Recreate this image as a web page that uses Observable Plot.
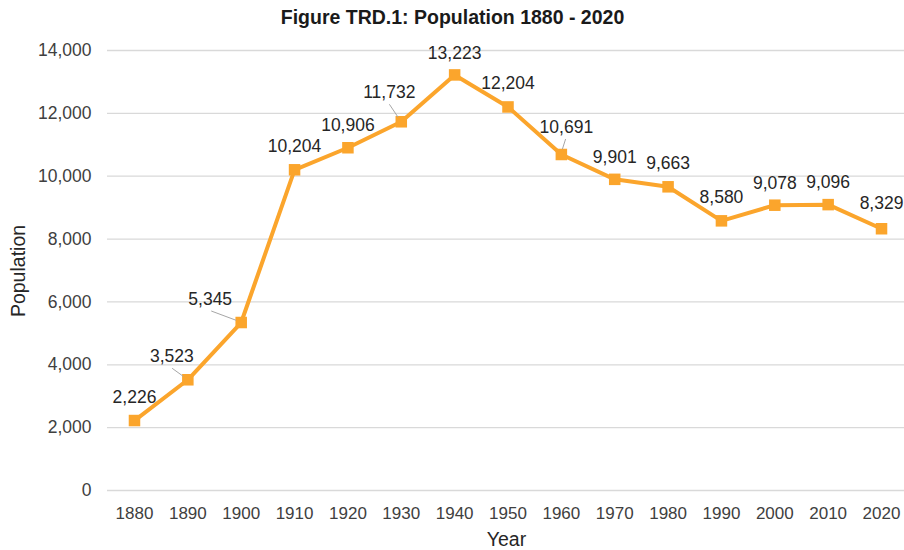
<!DOCTYPE html>
<html>
<head>
<meta charset="utf-8">
<script src="https://cdn.jsdelivr.net/npm/d3@7"></script>
<script src="https://cdn.jsdelivr.net/npm/@observablehq/plot@0.6"></script>
<style>
  html, body { margin: 0; padding: 0; background: #fff; }
  body { width: 904px; height: 550px; overflow: hidden; font-family: "Liberation Sans", Arial, sans-serif; }
  #title { height: 34px; line-height: 35px; text-align: center; font-weight: bold; font-size: 19.5px; color: #1a1a1a; padding-left: 1px; }
  #chart svg { display: block; }
</style>
</head>
<body>
<div id="title">Figure TRD.1: Population 1880 - 2020</div>
<div id="chart"></div>
<script>
const years = [1880, 1890, 1900, 1910, 1920, 1930, 1940, 1950, 1960, 1970, 1980, 1990, 2000, 2010, 2020];
const population = [2226, 3523, 5345, 10204, 10906, 11732, 13223, 12204, 10691, 9901, 9663, 8580, 9078, 9096, 8329];
const yTicks = [0, 2000, 4000, 6000, 8000, 10000, 12000, 14000];
const xTicks = years;
const xTitle = "Year";
const yTitle = "Population";

// label placement (pixels relative to each point)
const labelDx = [0, -16, -31, 0, 0, -12, 0, 0, 5, 0, 0, 0, 0, 0, 0];
const labelDy = [-23, -23, -23, -23, -22, -29, -22, -24, -27, -22, -23, -23, -22, -22, -25];
const leaderIdx = [1, 2, 5, 8];

const data = years.map((y, i) => ({year: y, pop: population[i], i}));
const orange = "#FBA52C";
const font = '"Liberation Sans", Arial, sans-serif';
const fmt = d3.format(",");

const labelMarks = data.map(d => Plot.text([d], {
  x: "year", y: "pop", text: e => fmt(e.pop),
  dx: labelDx[d.i], dy: labelDy[d.i],
  fill: "#262626", fontSize: 17.5
}));

function leaders(index, scales) {
  const g = d3.create("svg:g").attr("stroke", "#a6a6a6").attr("stroke-width", 1);
  for (const i of leaderIdx) {
    const px = scales.x(years[i]), py = scales.y(population[i]);
    const sx = labelDx[i] * 0.95, sy = labelDy[i] + 12;
    const len = Math.hypot(sx, sy);
    const ex = sx / len * 5, ey = sy / len * 5;
    g.append("line")
      .attr("x1", px + sx).attr("y1", py + sy)
      .attr("x2", px + ex).attr("y2", py + ey);
  }
  return g.node();
}

function axisTitles(index, scales, values, dims) {
  const g = d3.create("svg:g").attr("font-family", font).attr("font-size", 19.5).attr("fill", "#262626");
  const midY = (dims.marginTop + dims.height - dims.marginBottom) / 2;
  g.append("text").attr("text-anchor", "middle")
    .attr("transform", `translate(25,${midY + 1}) rotate(-90)`)
    .text(yTitle);
  const midX = (dims.marginLeft + dims.width - dims.marginRight) / 2;
  g.append("text").attr("text-anchor", "middle")
    .attr("x", midX + 1).attr("y", dims.height - 3)
    .text(xTitle);
  return g.node();
}

const chart = Plot.plot({
  width: 904,
  height: 515,
  marginTop: 16,
  marginBottom: 59,
  marginLeft: 107,
  marginRight: 0,
  style: {fontFamily: font, fontSize: "17px", color: "#404040", background: "#fff"},
  x: {domain: [1875, 2025], range: [107.3, 907.7]},
  y: {domain: [0, 14000]},
  marks: [
    Plot.gridY(yTicks, {stroke: "#d9d9d9", strokeOpacity: 1, strokeWidth: 1.3}),
    Plot.axisY(yTicks, {tickSize: 0, tickPadding: 16, tickFormat: fmt, label: null, fontSize: 17.5, fill: "#404040"}),
    Plot.axisX(xTicks, {tickSize: 0, tickPadding: 16, tickFormat: d => String(d), label: null, fontSize: 17, fill: "#404040"}),
    Plot.line(data, {x: "year", y: "pop", stroke: orange, strokeWidth: 4, strokeLinejoin: "round"}),
    Plot.dot(data, {x: "year", y: "pop", symbol: "square", r: 6.5, fill: orange, stroke: "none"}),
    leaders,
    ...labelMarks,
    axisTitles
  ]
});
document.getElementById("chart").appendChild(chart);
</script>
</body>
</html>
